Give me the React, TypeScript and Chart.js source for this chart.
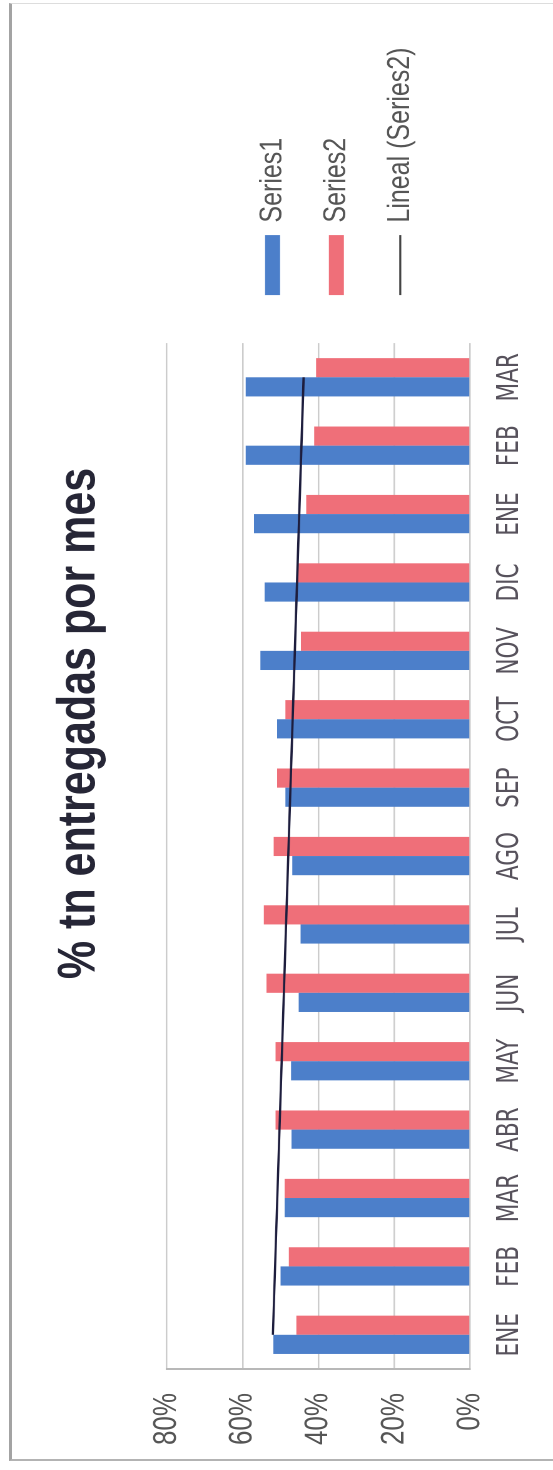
import React, { useEffect, useRef } from "react";
import { Chart, registerables } from "chart.js";

Chart.register(...registerables);

const months = ["ENE", "FEB", "MAR", "ABR", "MAY", "JUN", "JUL", "AGO", "SEP", "OCT", "NOV", "DIC", "ENE", "FEB", "MAR"];
const series1 = [51.9, 50.0, 48.9, 47.1, 47.2, 45.2, 44.7, 46.9, 48.7, 50.9, 55.3, 54.2, 57.0, 59.2, 59.2];
const series2 = [45.8, 47.8, 48.9, 51.3, 51.3, 53.7, 54.4, 51.8, 50.9, 48.7, 44.6, 45.6, 43.2, 41.1, 40.6];
// Linear trend of Series2, read at its two ends (ENE and last MAR)
const trendSeries2 = [52.0, null, null, null, null, null, null, null, null, null, null, null, null, null, 43.9];
const yTicks = [0, 20, 40, 60, 80];
const titleText = "% tn entregadas por mes";
const seriesNames = ["Series1", "Series2", "Lineal (Series2)"];

const W = 1470;
const H = 442;
const S = 553 / H;

const blankAxis = (width: number, weight: number) => ({
  type: "linear",
  position: "right",
  display: true,
  weight,
  grid: { display: false },
  border: { display: false },
  ticks: { display: false },
  afterFit: (s: any) => {
    s.width = width;
  },
});

export default function App() {
  const ref = useRef<HTMLCanvasElement>(null);

  useEffect(() => {
    if (!ref.current) return;
    const chart = new Chart(ref.current, {
      type: "bar",
      data: {
        labels: months,
        datasets: [
          {
            label: seriesNames[0],
            data: series1,
            backgroundColor: "#4c7fca",
            borderWidth: 0,
            order: 2,
            categoryPercentage: 0.56,
            barPercentage: 1.0,
          } as any,
          {
            label: seriesNames[1],
            data: series2,
            backgroundColor: "#ef6f79",
            borderWidth: 0,
            order: 2,
            categoryPercentage: 0.56,
            barPercentage: 1.0,
          } as any,
          {
            type: "line",
            label: seriesNames[2],
            data: trendSeries2,
            borderColor: "#1d1d3d",
            backgroundColor: "#1d1d3d",
            borderWidth: 1.8,
            pointRadius: 0,
            spanGaps: true,
            order: 0,
          } as any,
        ],
      },
      options: {
        animation: false,
        responsive: false,
        devicePixelRatio: 2,
        layout: { padding: { top: 0, left: 23, right: 0, bottom: 20 } },
        plugins: {
          title: {
            display: true,
            text: titleText,
            color: "#262636",
            font: { family: "'Liberation Sans', Arial, sans-serif", size: 43, weight: "bold", lineHeight: 1.2 },
            padding: { top: 38, bottom: 43.7 },
          },
          legend: {
            position: "right",
            fullSize: false,
            align: "center",
            maxWidth: 340,
            title: { display: true, text: " ", padding: 0, font: { size: 24, lineHeight: 1.2 } },
            labels: {
              usePointStyle: true,
              pointStyleWidth: 60,
              boxWidth: 60,
              boxHeight: 12,
              padding: 26,
              color: "#555555",
              font: { family: "'Liberation Sans', Arial, sans-serif", size: 25 },
              sort: (a: any, b: any) => a.datasetIndex - b.datasetIndex,
              generateLabels: (c: any) => {
                const items = Chart.defaults.plugins.legend.labels.generateLabels(c);
                return items.map((it: any) => {
                  if (it.datasetIndex < 2) {
                    return { ...it, pointStyle: "rect", lineWidth: 0, strokeStyle: it.fillStyle };
                  }
                  return { ...it, pointStyle: "line", lineWidth: 1.6, strokeStyle: "#444444", fillStyle: "#444444" };
                });
              },
            },
          },
          tooltip: { enabled: false },
        },
        scales: {
          x: {
            grid: { display: false, drawTicks: false },
            border: { display: false },
            ticks: {
              autoSkip: false,
              maxRotation: 0,
              minRotation: 0,
              padding: 17.5,
              color: "#57525c",
              font: { family: "'Liberation Sans Narrow', 'DejaVu Sans Condensed', 'Liberation Sans', Arial, sans-serif", size: 24 },
            },
            afterFit: (s: any) => {
              s.height = 46.3;
            },
          },
          y: {
            min: 0,
            max: 80,
            afterBuildTicks: (s: any) => {
              s.ticks = yTicks.map((v) => ({ value: v }));
            },
            grid: { color: "#cccccc", lineWidth: 1.2, drawTicks: false },
            border: { display: true, color: "#b8b8b8", width: 2 },
            ticks: {
              padding: 24,
              color: "#555555",
              font: { family: "'Liberation Sans', Arial, sans-serif", size: 26 },
              callback: (v: any) => v + "%",
            },
            afterFit: (s: any) => {
              s.width = 78;
            },
          },
          gap: blankAxis(22, 0),
          edge: blankAxis(37.5, 2000),
        },
      } as any,
    });
    return () => chart.destroy();
  }, []);

  return (
    <>
      <div
        style={{
          position: "absolute",
          left: 9,
          top: 3,
          width: 544,
          height: 1458,
          borderLeft: "3px solid #a3a3a3",
          borderBottom: "2px solid #b3b3b3",
          borderTop: "1px solid #dddddd",
          boxSizing: "border-box",
          pointerEvents: "none",
        }}
      />
      <div
        style={{
          position: "absolute",
          left: 0,
          top: 0,
          width: W,
          height: H,
          transformOrigin: "0 0",
          transform: `translateY(${W}px) rotate(-90deg) scaleY(${S})`,
        }}
      >
        <canvas ref={ref} width={W} height={H} style={{ width: W, height: H, display: "block" }} />
      </div>
    </>
  );
}
